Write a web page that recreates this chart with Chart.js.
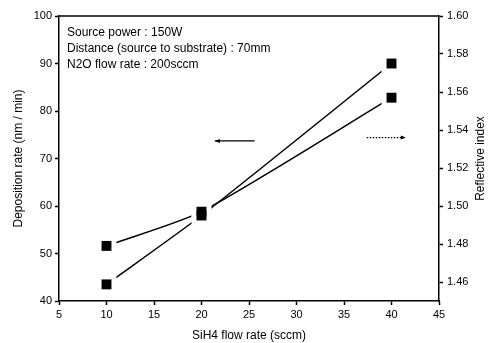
<!DOCTYPE html>
<html>
<head>
<meta charset="utf-8">
<script src="https://cdn.jsdelivr.net/npm/chart.js@4/dist/chart.umd.min.js"></script>
<style>
    html, body { margin: 0; padding: 0; background: #fff; }
    #wrap { width: 493px; height: 343px; }
</style>
</head>
<body>
<div id="wrap"><canvas id="plot" width="493" height="343"></canvas></div>
<script>
'use strict';

const flowRates = [10, 20, 40];
const depositionRate = [43.5, 58, 90];
const reflectiveIndex = [1.479, 1.497, 1.557];

const xTicks = [5, 10, 15, 20, 25, 30, 35, 40, 45];
const leftTicks = [40, 50, 60, 70, 80, 90, 100];
const rightTicks = [1.46, 1.48, 1.50, 1.52, 1.54, 1.56, 1.58, 1.60];

const conditions = [
    'Source power : 150W',
    'Distance (source to substrate) : 70mm',
    'N2O flow rate : 200sccm'
];

const FONT = '"Liberation Sans", Arial, sans-serif';

function toPoints(values) {
    return flowRates.map((x, i) => ({ x, y: values[i] }));
}

function fixTicks(list) {
    return scale => { scale.ticks = list.map(value => ({ value })); };
}

// line with white halos round the markers, so it stops short of them
function lineSet(values, axis) {
    return {
        data: toPoints(values),
        yAxisID: axis,
        borderColor: '#000',
        borderWidth: 1.5,
        tension: 0.22,
        pointStyle: 'rect',
        pointRadius: 14,
        pointBackgroundColor: '#fff',
        pointBorderWidth: 0,
        order: 2,
    };
}

function markerSet(values, axis) {
    return {
        data: toPoints(values),
        yAxisID: axis,
        showLine: false,
        pointStyle: 'rect',
        pointRadius: 7,
        pointBackgroundColor: '#000',
        pointBorderWidth: 0,
        order: 1,
    };
}

const decorations = {
    id: 'decorations',
    afterDatasetsDraw(chart) {
        const { ctx, chartArea, scales } = chart;
        ctx.save();

        // top frame line
        ctx.strokeStyle = '#000';
        ctx.lineWidth = 1.5;
        ctx.beginPath();
        ctx.moveTo(chartArea.left, chartArea.top);
        ctx.lineTo(chartArea.right, chartArea.top);
        ctx.stroke();

        // condition text
        ctx.fillStyle = '#000';
        ctx.font = '12px ' + FONT;
        ctx.textBaseline = 'middle';
        conditions.forEach((line, i) => {
            ctx.fillText(line, chartArea.left + 8, chartArea.top + 17 + i * 16);
        });

        // arrow to left axis
        const ly = scales.y.getPixelForValue(73.7);
        const lx1 = scales.x.getPixelForValue(25.6);
        const lx2 = scales.x.getPixelForValue(21.4);
        ctx.lineWidth = 1.2;
        ctx.beginPath();
        ctx.moveTo(lx1, ly);
        ctx.lineTo(lx2, ly);
        ctx.stroke();
        ctx.beginPath();
        ctx.moveTo(lx2, ly);
        ctx.lineTo(lx2 + 5, ly - 2);
        ctx.lineTo(lx2 + 5, ly + 2);
        ctx.closePath();
        ctx.fill();

        // dotted arrow to right axis
        const ry = scales.y2.getPixelForValue(1.536);
        const rx1 = scales.x.getPixelForValue(37.4);
        const rx2 = scales.x.getPixelForValue(41.5);
        ctx.setLineDash([1.5, 1.5]);
        ctx.beginPath();
        ctx.moveTo(rx1, ry);
        ctx.lineTo(rx2, ry);
        ctx.stroke();
        ctx.setLineDash([]);
        ctx.beginPath();
        ctx.moveTo(rx2, ry);
        ctx.lineTo(rx2 - 5, ry - 2);
        ctx.lineTo(rx2 - 5, ry + 2);
        ctx.closePath();
        ctx.fill();

        // right axis title, read bottom to top like the left one
        ctx.font = '12px ' + FONT;
        ctx.textAlign = 'center';
        ctx.translate(481, (chartArea.top + chartArea.bottom) / 2);
        ctx.rotate(-Math.PI / 2);
        ctx.fillText('Reflective index', 0, 0);

        ctx.restore();
    }
};

const tickFont = { family: FONT, size: 11 };
const titleFont = { family: FONT, size: 12 };
const axisGrid = { drawOnChartArea: false, drawTicks: true, tickLength: 4, color: '#000', tickWidth: 1.5 };
const axisBorder = { display: true, color: '#000', width: 1.5 };

new Chart(document.getElementById('plot'), {
    type: 'line',
    data: {
        datasets: [
            lineSet(depositionRate, 'y'),
            lineSet(reflectiveIndex, 'y2'),
            markerSet(depositionRate, 'y'),
            markerSet(reflectiveIndex, 'y2'),
        ]
    },
    options: {
        responsive: false,
        animation: false,
        layout: { padding: { top: 16, left: 0, right: 0, bottom: 0 } },
        plugins: { legend: { display: false }, tooltip: { enabled: false } },
        scales: {
            x: {
                type: 'linear',
                min: 5,
                max: 45,
                afterBuildTicks: fixTicks(xTicks),
                afterFit: scale => { scale.height = 42; },
                grid: axisGrid,
                border: axisBorder,
                ticks: { font: tickFont, color: '#000', padding: 3 },
                title: { display: true, text: 'SiH4 flow rate (sccm)', font: titleFont, color: '#000', padding: { top: 0, bottom: 0 } }
            },
            y: {
                position: 'left',
                min: 40,
                max: 100,
                afterBuildTicks: fixTicks(leftTicks),
                afterFit: scale => { scale.width = 59; },
                grid: axisGrid,
                border: axisBorder,
                ticks: { font: tickFont, color: '#000', padding: 3 },
                title: { display: true, text: 'Deposition rate (nm / min)', font: titleFont, color: '#000', padding: { top: 11, bottom: 0 } }
            },
            y2: {
                position: 'right',
                min: 1.45,
                max: 1.60,
                afterBuildTicks: fixTicks(rightTicks),
                afterFit: scale => { scale.width = 54; },
                grid: axisGrid,
                border: axisBorder,
                ticks: { font: tickFont, color: '#000', padding: 4, callback: v => v.toFixed(2) }
            }
        }
    },
    plugins: [decorations]
});
</script>
</body>
</html>
